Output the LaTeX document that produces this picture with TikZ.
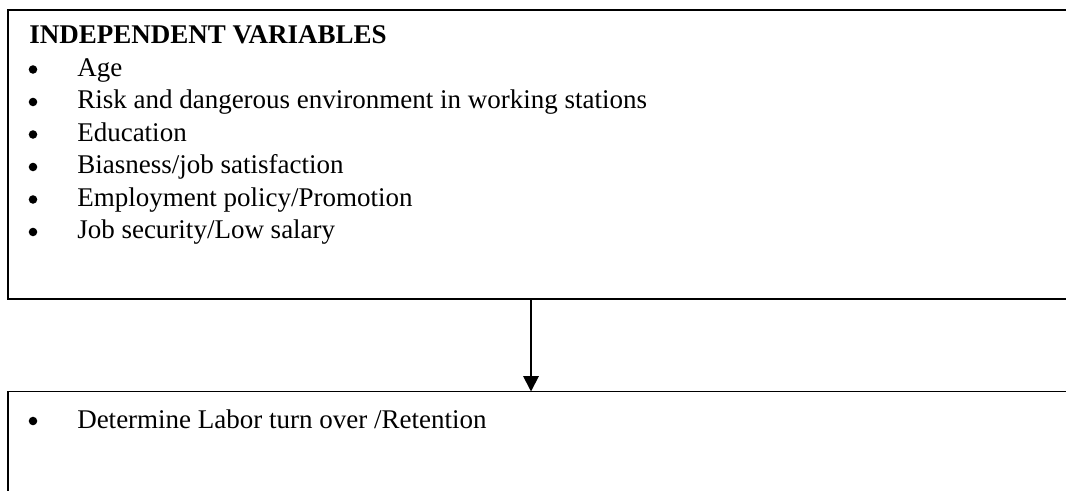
\documentclass[tikz,border=0pt]{standalone}
\usepackage{fontspec}
\setmainfont{Liberation Serif}
\usetikzlibrary{arrows.meta}
\usetikzlibrary{positioning}

\begin{document}
\begin{tikzpicture}[x=0.75pt, y=-0.75pt,
    box/.style={draw, line width=1.4pt, outer sep=0pt, anchor=north west, minimum width=830pt},
    item/.style={anchor=base west, inner sep=0pt, font=\fontsize{20.25}{24}\selectfont}]
    \useasboundingbox (0,0) rectangle (1066,491);
    \clip (0,0) rectangle (1066,491);
    \fill[white] (0,0) rectangle (1066,491);

    % the two boxes, both run past the right and lower edges
    \node[box, minimum height=216.75pt] (indep) at (8,10) {};
    \node[box, minimum height=150pt] (result) at (8,391.5) {};

    \node[item, font=\fontsize{20.25}{24}\selectfont\bfseries] (head) at (29,44) {INDEPENDENT VARIABLES};
    \foreach \txt [count=\i] in {Age,
        Risk and dangerous environment in working stations,
        Education,
        Biasness/job satisfaction,
        Employment policy/Promotion,
        Job security/Low salary} {
        \pgfmathsetmacro{\y}{44 + 32.5*\i}
        \node[item] (var\i) at (77,\y) {\txt};
        \fill (33,\y-7) circle (3.2pt);
    }

    \node[item] (labor) at (77,428) {Determine Labor turn over /Retention};
    \fill (33,421) circle (3.2pt);

    \coordinate (mid) at (531,0);
    \draw[line width=1.4pt, -{Triangle[width=11.5pt,length=11.5pt]}] (indep.south -| mid) -- (result.north -| mid);
\end{tikzpicture}
\end{document}
